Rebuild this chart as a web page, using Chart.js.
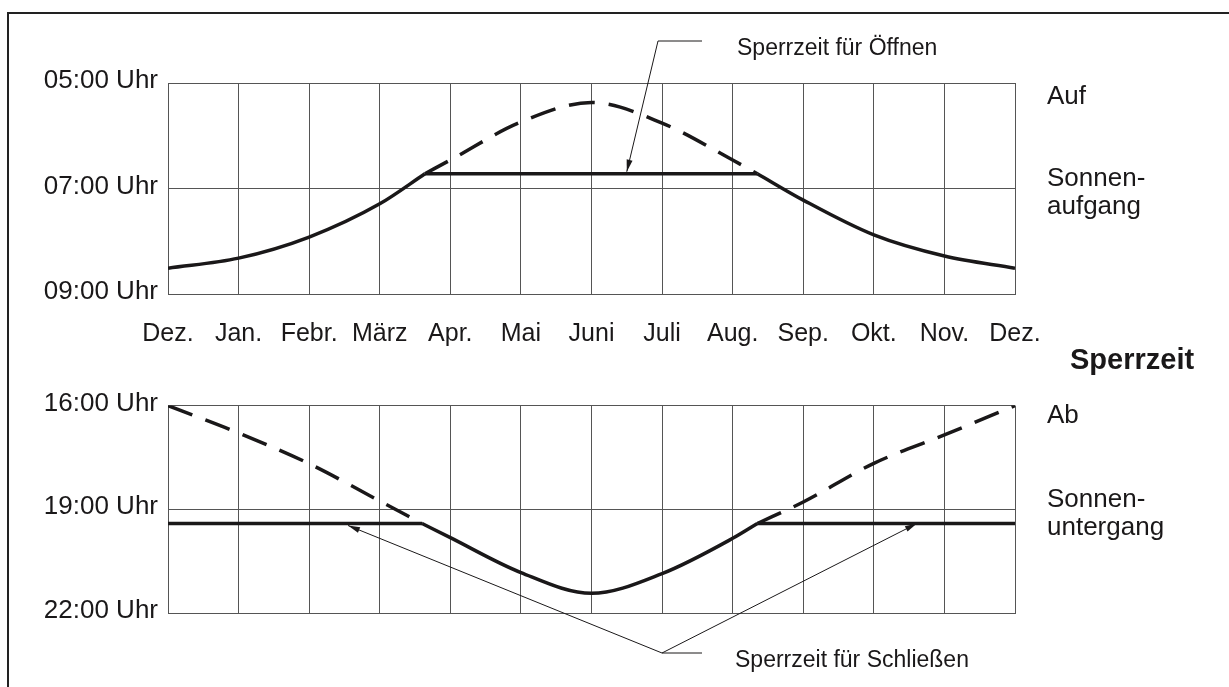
<!DOCTYPE html>
<html lang="de">
<head>
<meta charset="utf-8">
<title>Sperrzeit Auf / Ab</title>
<script src="https://cdn.jsdelivr.net/npm/chart.js@4.4.1/dist/chart.umd.min.js"></script>
<style>
    html, body { margin: 0; padding: 0; background: #fff; }
    #page { position: relative; width: 1229px; height: 687px; overflow: hidden; }
    #frame { position: absolute; left: 7px; top: 12px; width: 1240px; height: 700px;
             border-left: 2px solid #222; border-top: 2px solid #222; }
    canvas { position: absolute; left: 0; }
    #topChart { top: 0; }
    #bottomChart { top: 380px; }
</style>
</head>
<body>
<div id="page">
    <div id="frame"></div>
    <canvas id="topChart" width="1229" height="380"></canvas>
    <canvas id="bottomChart" width="1229" height="307"></canvas>
</div>
<script>
// ====================== DATA ======================
// x = month position (0 = Dez. ... 12 = Dez.), y = time of day in hours
const months = ["Dez.", "Jan.", "Febr.", "März", "Apr.", "Mai", "Juni", "Juli", "Aug.", "Sep.", "Okt.", "Nov.", "Dez."];

// upper diagram: Auf / Sonnenaufgang
const riseTicks = [5, 7, 9];
const riseSolidLeft = [[0, 8.51], [1, 8.32], [2, 7.92], [3, 7.29], [3.64, 6.72]];
const riseLock = [[3.64, 6.72], [8.35, 6.72]];
const riseSolidRight = [[8.35, 6.72], [9, 7.22], [10, 7.88], [11, 8.28], [12, 8.51]];
const riseDashed = [[3.64, 6.72], [4, 6.46], [5, 5.74], [6, 5.37], [7, 5.76], [8, 6.46], [8.35, 6.72]];

// lower diagram: Ab / Sonnenuntergang
const setTicks = [16, 19, 22];
const setLockLeft = [[0, 19.41], [3.6, 19.41]];
const setDashedLeft = [[0, 16], [1, 16.79], [2, 17.68], [3, 18.76], [3.6, 19.41]];
const setSolid = [[3.6, 19.41], [4, 19.82], [5, 20.83], [6, 21.43], [7, 20.86], [8, 19.84], [8.35, 19.41]];
const setDashedRight = [[8.35, 19.41], [9, 18.79], [10, 17.67], [11, 16.85], [12, 16]];
const setLockRight = [[8.35, 19.41], [12, 19.41]];

// where the "Sperrzeit" arrows point (month position)
const openArrowAt = 6.5;
const closeArrowsAt = [2.55, 10.61];

// ====================== STYLE ======================
const ink = "#1a1819";
const gridColor = "#555";
const fontFamily = '"Liberation Sans", Arial, Helvetica, sans-serif';

const toXY = pts => pts.map(p => ({ x: p[0], y: p[1] }));
const hourLabel = v => String(v).padStart(2, "0") + ":00 Uhr";

function lineSet(pts, dashed) {
    return {
        data: toXY(pts),
        borderColor: ink,
        borderWidth: 3.5,
        borderDash: dashed ? [26, 14] : [],
        pointRadius: 0,
        cubicInterpolationMode: "monotone",
        fill: false
    };
}

function arrowLine(ctx, x0, y0, x1, y1) {
    ctx.beginPath();
    ctx.moveTo(x0, y0);
    ctx.lineTo(x1, y1);
    ctx.stroke();
    const a = Math.atan2(y1 - y0, x1 - x0);
    const len = 12, w = 3;
    ctx.beginPath();
    ctx.moveTo(x1, y1);
    ctx.lineTo(x1 - len * Math.cos(a) + w * Math.sin(a), y1 - len * Math.sin(a) - w * Math.cos(a));
    ctx.lineTo(x1 - len * Math.cos(a) - w * Math.sin(a), y1 - len * Math.sin(a) + w * Math.cos(a));
    ctx.closePath();
    ctx.fill();
}

function buildOptions(ticks, showMonths, padding, xHeight) {
    return {
        responsive: false,
        animation: false,
        devicePixelRatio: 1,
        layout: { padding: padding },
        plugins: { legend: { display: false }, tooltip: { enabled: false } },
        scales: {
            x: {
                type: "linear",
                min: 0,
                max: months.length - 1,
                afterBuildTicks: scale => { scale.ticks = months.map((m, i) => ({ value: i })); },
                afterFit: scale => { scale.height = xHeight; },
                ticks: {
                    display: showMonths,
                    callback: v => months[v],
                    color: ink,
                    font: { family: fontFamily, size: 25 },
                    padding: 25,
                    maxRotation: 0,
                    autoSkip: false
                },
                grid: { color: gridColor, lineWidth: 1, drawTicks: false },
                border: { color: gridColor }
            },
            y: {
                type: "linear",
                reverse: true,
                min: ticks[0],
                max: ticks[ticks.length - 1],
                afterBuildTicks: scale => { scale.ticks = ticks.map(v => ({ value: v })); },
                afterFit: scale => { scale.width = 168; },
                ticks: {
                    callback: v => hourLabel(v),
                    color: ink,
                    font: { family: fontFamily, size: 26 },
                    padding: 10,
                    labelOffset: -2
                },
                grid: { color: gridColor, lineWidth: 1, drawTicks: false },
                border: { color: gridColor }
            }
        }
    };
}

// ====================== ANNOTATIONS ======================
const riseNotes = {
    id: "riseNotes",
    afterDraw(chart) {
        const { ctx, scales: { x, y } } = chart;
        ctx.save();
        ctx.fillStyle = ink;
        ctx.strokeStyle = ink;
        ctx.lineWidth = 1;
        ctx.beginPath();
        ctx.moveTo(658, 41);
        ctx.lineTo(702, 41);
        ctx.stroke();
        arrowLine(ctx, 658, 41, x.getPixelForValue(openArrowAt), y.getPixelForValue(riseLock[0][1]) - 2);

        ctx.textBaseline = "alphabetic";
        ctx.textAlign = "left";
        ctx.font = "23px " + fontFamily;
        ctx.fillText("Sperrzeit für Öffnen", 737, 55);
        ctx.font = "26px " + fontFamily;
        ctx.fillText("Auf", 1047, 104);
        ctx.fillText("Sonnen-", 1047, 186);
        ctx.fillText("aufgang", 1047, 214);
        ctx.font = "bold 29px " + fontFamily;
        ctx.fillText("Sperrzeit", 1070, 369);
        ctx.restore();
    }
};

const setNotes = {
    id: "setNotes",
    afterDraw(chart) {
        const { ctx, scales: { x, y } } = chart;
        const lockY = y.getPixelForValue(setLockLeft[0][1]);
        ctx.save();
        ctx.fillStyle = ink;
        ctx.strokeStyle = ink;
        ctx.lineWidth = 1;
        ctx.beginPath();
        ctx.moveTo(662, 273);
        ctx.lineTo(702, 273);
        ctx.stroke();
        arrowLine(ctx, 662, 273, x.getPixelForValue(closeArrowsAt[0]), lockY + 2);
        arrowLine(ctx, 662, 273, x.getPixelForValue(closeArrowsAt[1]), lockY);

        ctx.textBaseline = "alphabetic";
        ctx.textAlign = "left";
        ctx.font = "23px " + fontFamily;
        ctx.fillText("Sperrzeit für Schließen", 735, 287);
        ctx.font = "26px " + fontFamily;
        ctx.fillText("Ab", 1047, 43);
        ctx.fillText("Sonnen-", 1047, 127);
        ctx.fillText("untergang", 1047, 155);
        ctx.restore();
    }
};

// ====================== CHARTS ======================
new Chart(document.getElementById("topChart"), {
    type: "line",
    data: {
        datasets: [
            lineSet(riseDashed, true),
            lineSet(riseSolidLeft, false),
            lineSet(riseLock, false),
            lineSet(riseSolidRight, false)
        ]
    },
    options: buildOptions(riseTicks, true, { left: 0, right: 214, top: 83, bottom: 0 }, 86),
    plugins: [riseNotes]
});

new Chart(document.getElementById("bottomChart"), {
    type: "line",
    data: {
        datasets: [
            lineSet(setDashedLeft, true),
            lineSet(setDashedRight, true),
            lineSet(setLockLeft, false),
            lineSet(setSolid, false),
            lineSet(setLockRight, false)
        ]
    },
    options: buildOptions(setTicks, false, { left: 0, right: 214, top: 22, bottom: 0 }, 74),
    plugins: [setNotes]
});
</script>
</body>
</html>
